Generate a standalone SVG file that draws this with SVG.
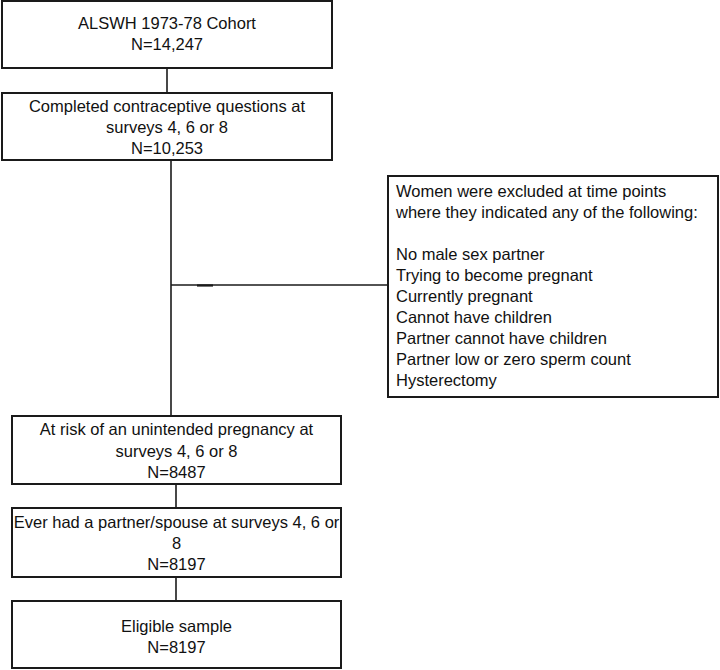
<svg xmlns="http://www.w3.org/2000/svg" width="720" height="670" viewBox="0 0 720 670">
<style>
.box{fill:#fff;stroke:#1a1a1a;stroke-width:2}
.ln{stroke:#1a1a1a;stroke-width:1.6;fill:none}
text{font-family:"Liberation Sans",Arial,sans-serif;font-size:16.5px;fill:#111}
.c{text-anchor:middle}
</style>
<rect width="720" height="670" fill="#fff"/>
<g id="connectors">
<line class="ln" x1="167" y1="68" x2="167" y2="93"/>
<line class="ln" x1="171" y1="160" x2="171" y2="416"/>
<line class="ln" x1="171" y1="285" x2="388" y2="285"/>
<line x1="197" y1="285.5" x2="213" y2="285.5" stroke="#1a1a1a" stroke-width="2.2"/>
<line class="ln" x1="176" y1="484" x2="176" y2="508"/>
<line class="ln" x1="176" y1="577" x2="176" y2="601"/>
</g>
<g id="n1">
<rect class="box" x="2" y="1" width="330" height="67"/>
<text class="c" x="167" y="29">ALSWH 1973-78 Cohort</text>
<text class="c" x="167" y="50">N=14,247</text>
</g>
<g id="n2">
<rect class="box" x="2" y="93" width="330" height="67"/>
<text class="c" x="167" y="112">Completed contraceptive questions at</text>
<text class="c" x="167" y="133">surveys 4, 6 or 8</text>
<text class="c" x="167" y="154">N=10,253</text>
</g>
<g id="excl">
<rect class="box" x="388" y="176" width="330" height="221"/>
<text x="396" y="197">Women were excluded at time points</text>
<text x="396" y="218">where they indicated any of the following:</text>
<text x="396" y="260">No male sex partner</text>
<text x="396" y="281">Trying to become pregnant</text>
<text x="396" y="302">Currently pregnant</text>
<text x="396" y="323">Cannot have children</text>
<text x="396" y="344">Partner cannot have children</text>
<text x="396" y="365">Partner low or zero sperm count</text>
<text x="396" y="386">Hysterectomy</text>
</g>
<g id="n3">
<rect class="box" x="12" y="416" width="329" height="68"/>
<text class="c" x="176.5" y="435">At risk of an unintended pregnancy at</text>
<text class="c" x="176.5" y="457">surveys 4, 6 or 8</text>
<text class="c" x="176.5" y="478">N=8487</text>
</g>
<g id="n4">
<rect class="box" x="12" y="508" width="329" height="69"/>
<text class="c" x="176.5" y="528">Ever had a partner/spouse at surveys 4, 6 or</text>
<text class="c" x="176.5" y="549">8</text>
<text class="c" x="176.5" y="570">N=8197</text>
</g>
<g id="n5">
<rect class="box" x="12" y="601" width="329" height="67"/>
<text class="c" x="176.5" y="632">Eligible sample</text>
<text class="c" x="176.5" y="653">N=8197</text>
</g>
</svg>
